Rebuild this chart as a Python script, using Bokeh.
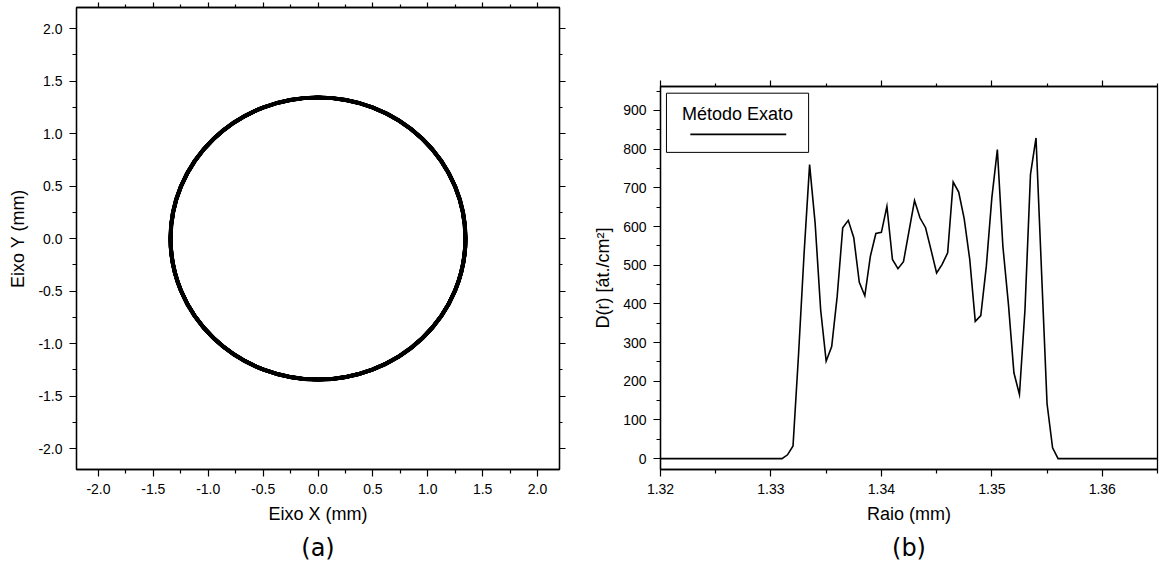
from bokeh.plotting import figure
from bokeh.models import (Range1d, FixedTicker, PrintfTickFormatter, LinearAxis,
                          Title, Label, BoxAnnotation)
from bokeh.embed import file_html
from bokeh.resources import INLINE

# ---------------- data ----------------
raio = [1.3200, 1.3310, 1.3315, 1.3320, 1.3325, 1.3330, 1.3335, 1.3340, 1.3345,
        1.3350, 1.3355, 1.3360, 1.3365, 1.3370, 1.3375, 1.3380, 1.3385, 1.3390,
        1.3395, 1.3400, 1.3405, 1.3410, 1.3415, 1.3420, 1.3425, 1.3430, 1.3435,
        1.3440, 1.3445, 1.3450, 1.3455, 1.3460, 1.3465, 1.3470, 1.3475, 1.3480,
        1.3485, 1.3490, 1.3495, 1.3500, 1.3505, 1.3510, 1.3515, 1.3520, 1.3525,
        1.3530, 1.3535, 1.3540, 1.3545, 1.3550, 1.3555, 1.3560, 1.3650]
densidade = [0, 0, 10, 33, 270, 530, 760, 609, 385,
             252, 290, 420, 597, 616, 571, 456, 421, 523,
             582, 585, 652, 515, 491, 509, 588, 667, 622,
             597, 539, 480, 502, 532, 715, 689, 620, 515,
             355, 370, 497, 674, 799, 549, 400, 222, 166,
             385, 735, 829, 484, 142, 28, 0, 0]
legenda = "Método Exato"

ticks_a = [-2.0, -1.5, -1.0, -0.5, 0.0, 0.5, 1.0, 1.5, 2.0]
minor_a = [-1.75, -1.25, -0.75, -0.25, 0.25, 0.75, 1.25, 1.75]
ticks_bx = [1.32, 1.33, 1.34, 1.35, 1.36]
minor_bx = [1.325, 1.335, 1.345, 1.355, 1.365]
ticks_by = [0, 100, 200, 300, 400, 500, 600, 700, 800, 900]
minor_by = [50, 150, 250, 350, 450, 550, 650, 750, 850, 950]

FONT = "Liberation Sans"


def style_axis(ax, ticks=None, labels=True, tick_out=7, minor_out=4):
    ax.axis_line_color = "black"
    ax.axis_line_width = 1.3
    ax.major_tick_line_color = "black"
    ax.minor_tick_line_color = "black"
    ax.major_tick_line_width = 1.2
    ax.minor_tick_line_width = 1.2
    ax.major_tick_in = 0
    ax.minor_tick_in = 0
    ax.major_tick_out = tick_out
    ax.minor_tick_out = minor_out
    if labels:
        ax.major_label_text_font = FONT
        ax.major_label_text_font_size = "14px"
        ax.major_label_text_color = "black"
        ax.major_label_standoff = 7
        ax.axis_label_text_font = FONT
        ax.axis_label_text_font_size = "18px"
        ax.axis_label_text_font_style = "normal"
        ax.axis_label_text_color = "black"
        ax.axis_label_standoff = 7
    else:
        ax.major_label_overrides = {t: "" for t in ticks}
        ax.major_label_standoff = 0


def base(p):
    p.grid.visible = False
    p.outline_line_color = "black"
    p.outline_line_width = 1.3
    p.background_fill_color = "white"
    p.border_fill_color = "white"


# ---------------- (a) ring ----------------
pa = figure(name="pa", width=580, height=567, output_backend="svg",
            toolbar_location=None,
            x_range=Range1d(-2.2, 2.2), y_range=Range1d(-2.2, 2.2),
            min_border_left=76, min_border_right=21, min_border_top=7,
            min_border_bottom=98,
            x_axis_label="Eixo X (mm)", y_axis_label="Eixo Y (mm)")
base(pa)
for ax in (pa.xaxis[0], pa.yaxis[0]):
    ax.ticker = FixedTicker(ticks=ticks_a, minor_ticks=minor_a)
    ax.formatter = PrintfTickFormatter(format="%.1f")
    style_axis(ax)
top_a = LinearAxis(ticker=FixedTicker(ticks=ticks_a, minor_ticks=minor_a))
style_axis(top_a, ticks=ticks_a, labels=False, tick_out=5, minor_out=3)
pa.add_layout(top_a, "above")
right_a = LinearAxis(ticker=FixedTicker(ticks=ticks_a, minor_ticks=minor_a))
style_axis(right_a, ticks=ticks_a, labels=False, tick_out=6, minor_out=3)
pa.add_layout(right_a, "right")

raios_anel = [r for r, d in zip(raio, densidade) if d > 0]
pa.ellipse(x=[0.0] * len(raios_anel), y=[0.0] * len(raios_anel),
           width=[2 * r for r in raios_anel], height=[2 * r for r in raios_anel],
           fill_color=None, line_color="black", line_width=1.5)

pa.add_layout(Title(text="(a)", align="center", text_font="DejaVu Sans",
                    text_font_size="24px", text_font_style="normal",
                    text_color="black", standoff=11), "below")

# ---------------- (b) density profile ----------------
xr = Range1d(1.32, 1.365)
yr = Range1d(-28, 962)
pb = figure(name="pb", width=582, height=567, output_backend="svg",
            toolbar_location=None,
            x_range=xr, y_range=yr,
            min_border_left=80, min_border_right=5, min_border_top=86,
            min_border_bottom=98,
            x_axis_label="Raio (mm)", y_axis_label="D(r) [át./cm²]")
base(pb)
pb.xaxis[0].ticker = FixedTicker(ticks=ticks_bx, minor_ticks=minor_bx)
pb.xaxis[0].formatter = PrintfTickFormatter(format="%.2f")
pb.yaxis[0].ticker = FixedTicker(ticks=ticks_by, minor_ticks=minor_by)
style_axis(pb.xaxis[0])
style_axis(pb.yaxis[0])
top_b = LinearAxis(ticker=FixedTicker(ticks=ticks_bx, minor_ticks=minor_bx))
style_axis(top_b, ticks=ticks_bx, labels=False, tick_out=6, minor_out=3)
pb.add_layout(top_b, "above")

pb.line(raio, densidade, line_color="black", line_width=1.6, line_join="miter")


# manual legend (label above sample line), placed by frame fractions
def fx(f):
    return xr.start + f * (xr.end - xr.start)


def fy(f):
    return yr.start + f * (yr.end - yr.start)


pb.add_layout(BoxAnnotation(left=fx(0.012), right=fx(0.298), bottom=fy(0.828),
                            top=fy(0.9825), fill_alpha=0, line_color="black",
                            line_alpha=1.0, line_width=1))
pb.add_layout(Label(x=fx(0.155), y=fy(0.928), text=legenda, text_align="center",
                    text_baseline="alphabetic", text_font=FONT,
                    text_font_size="18px", text_color="black"))
pb.segment(x0=[fx(0.06)], y0=[fy(0.875)], x1=[fx(0.253)], y1=[fy(0.875)],
           line_color="black", line_width=1.6)

pb.add_layout(Title(text="(b)", align="center", text_font="DejaVu Sans",
                    text_font_size="24px", text_font_style="normal",
                    text_color="black", standoff=11), "below")

# two independent roots side by side (no frame alignment between them)
TEMPLATE = """
{% block contents %}
{% from macros import embed %}
<div style="display:flex;flex-direction:row;align-items:flex-start;">
{{ embed(roots[0]) }}
{{ embed(roots[1]) }}
</div>
{% endblock %}
"""

open("out.html", "w").write(file_html([pa, pb], INLINE, template=TEMPLATE))
